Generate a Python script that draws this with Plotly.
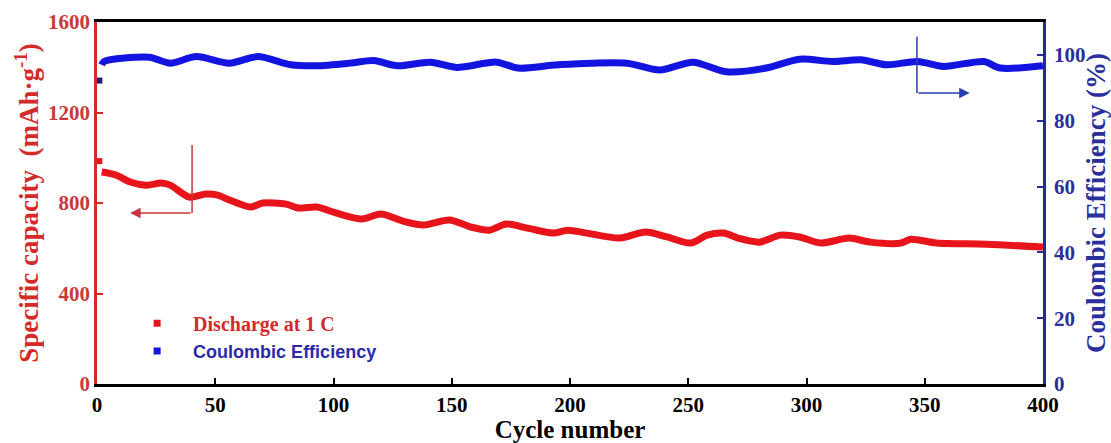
import plotly.graph_objects as go

# Discharge capacity (mAh/g) vs cycle
cap_cycles = [1, 2, 8, 14, 21, 27, 31, 39, 46, 51, 56, 65, 70, 80, 85, 93, 101, 112, 120,
              130, 138, 149, 158, 166, 173, 182, 193, 199, 207, 221, 232, 241, 251, 258,
              265, 271, 280, 289, 297, 306, 318, 327, 340, 344, 355, 376, 400]
capacity = [985, 937, 924, 893, 879, 888, 879, 826, 840, 835, 813, 782, 800, 795, 778, 782,
            756, 729, 751, 718, 703, 725, 694, 680, 707, 689, 667, 680, 667, 645, 672, 650,
            623, 658, 667, 645, 627, 658, 650, 623, 645, 627, 623, 640, 623, 618, 605]

# Coulombic efficiency (%) vs cycle
ce_cycles = [1, 2, 3, 22, 31, 42, 56, 68, 82, 93, 107, 117, 127, 141, 152, 169, 178, 195,
             224, 238, 252, 266, 283, 297, 311, 323, 334, 347, 358, 375, 382, 400]
efficiency = [92.2, 97.0, 98.0, 99.3, 97.5, 99.5, 97.5, 99.5, 97.0, 96.7, 97.5, 98.3, 96.7,
              97.8, 96.2, 97.8, 96.0, 97.0, 97.5, 95.4, 97.8, 94.9, 96.0, 98.7, 98.0, 98.5,
              97.0, 98.0, 96.5, 98.0, 96.0, 96.7]

x_ticks = [0, 50, 100, 150, 200, 250, 300, 350, 400]
cap_ticks = [0, 400, 800, 1200, 1600]
ce_ticks = [0, 20, 40, 60, 80, 100]

RED = "#e8141c"
BLUE = "#1414e0"
AX_RED = "#d02a2a"
AX_BLUE = "#222c9c"
SERIF = "Liberation Serif"

fig = go.Figure()

# capacity curve and first-cycle point
fig.add_trace(go.Scatter(x=cap_cycles[1:], y=capacity[1:], mode="lines",
                         line=dict(color=RED, width=7, shape="spline", smoothing=0.8),
                         showlegend=False, yaxis="y"))
fig.add_trace(go.Scatter(x=cap_cycles[:1], y=capacity[:1], mode="markers",
                         marker=dict(color=RED, size=6, symbol="square"),
                         showlegend=False, yaxis="y", cliponaxis=False))

# efficiency curve and first-cycle point
fig.add_trace(go.Scatter(x=ce_cycles[1:], y=efficiency[1:], mode="lines",
                         line=dict(color=BLUE, width=7, shape="spline", smoothing=0.8),
                         showlegend=False, yaxis="y2"))
fig.add_trace(go.Scatter(x=ce_cycles[:1], y=efficiency[:1], mode="markers",
                         marker=dict(color="#202070", size=6, symbol="square"),
                         showlegend=False, yaxis="y2", cliponaxis=False))

# legend entries
fig.add_trace(go.Scatter(x=[None], y=[None], mode="markers",
                         marker=dict(color=RED, size=7, symbol="square"),
                         name='<span style="color:#d42a2a;font-family:Liberation Serif;font-size:20px">'
                              '<b>Discharge at 1 C</b></span>'))
fig.add_trace(go.Scatter(x=[None], y=[None], mode="markers",
                         marker=dict(color=BLUE, size=7, symbol="square"),
                         name='<span style="color:#2a2aa8;font-family:Liberation Sans;font-size:18px">'
                              '<b>Coulombic Efficiency</b></span>'))

# guide arrows pointing to each axis
fig.add_shape(type="line", xref="x", yref="y", x0=40.2, x1=40.2, y0=1056, y1=756,
              line=dict(color="#c8343c", width=1.5))
fig.add_annotation(xref="x", yref="y", axref="x", ayref="y", x=14, y=756, ax=40.2, ay=756,
                   showarrow=True, arrowhead=2, arrowsize=1.4, arrowwidth=1.5,
                   arrowcolor="#c8343c", text="")
fig.add_shape(type="line", xref="x", yref="y2", x0=346.7, x1=346.7, y0=105.5, y1=88.4,
              line=dict(color="#2a3cb0", width=1.5))
fig.add_annotation(xref="x", yref="y2", axref="x", ayref="y2", x=369, y=88.4, ax=346.7, ay=88.4,
                   showarrow=True, arrowhead=2, arrowsize=1.4, arrowwidth=1.5,
                   arrowcolor="#2a3cb0", text="")

fig.update_layout(
    width=1111, height=443,
    margin=dict(l=97, r=68, t=22, b=59),
    paper_bgcolor="white", plot_bgcolor="white",
    font=dict(family=SERIF, color="black"),
    xaxis=dict(range=[0, 400], tickvals=x_ticks, ticks="inside", ticklen=6, tickwidth=2,
               tickcolor="black", showline=True, linecolor="black", linewidth=3, mirror=True,
               showgrid=False, zeroline=False, automargin=False,
               tickfont=dict(family=SERIF, size=21, color="black", weight="bold"),
               title=dict(text="<b>Cycle number</b>", font=dict(family=SERIF, size=25, color="black"),
                          standoff=0)),
    yaxis=dict(range=[0, 1600], tickvals=cap_ticks, ticks="inside", ticklen=6, tickwidth=2,
               tickcolor=AX_RED, showline=True, linecolor=AX_RED, linewidth=2.5,
               showgrid=False, zeroline=False, automargin=False,
               tickfont=dict(family=SERIF, size=21, color="#c83a3a", weight="bold"),
               title=dict(text="<b>Specific capacity  (mAh·g<sup>-1</sup>)</b>",
                          font=dict(family=SERIF, size=27, color="#d42a2a"), standoff=2)),
    yaxis2=dict(range=[0, 110], tickvals=ce_ticks, ticks="inside", ticklen=6, tickwidth=2,
                tickcolor=AX_BLUE, showline=True, linecolor=AX_BLUE, linewidth=2.5,
                overlaying="y", side="right", showgrid=False, zeroline=False, automargin=False,
                ticklabelstandoff=4,
                tickfont=dict(family=SERIF, size=21, color="#2b2f9b", weight="bold"),
                title=dict(text="<b>Coulombic Efficiency (%)</b>",
                           font=dict(family=SERIF, size=27, color="#2b2f9b"), standoff=2)),
    legend=dict(x=0.0255, y=0.22, xanchor="left", yanchor="top", bgcolor="rgba(0,0,0,0)",
                tracegroupgap=0, itemwidth=62, font=dict(size=19)),
)

fig.write_html("out.html")
